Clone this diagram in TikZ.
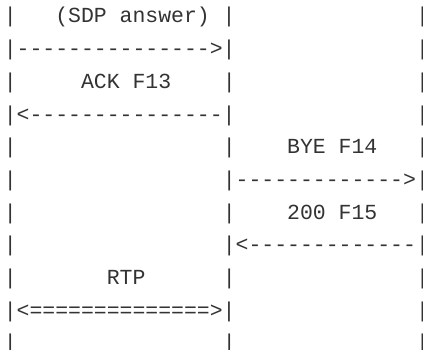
\documentclass[tikz,border=0pt]{standalone}
\usepackage{fontspec}
\setmonofont{Liberation Mono}
\definecolor{ink}{HTML}{333333}
\tikzset{row/.style={anchor=base west, inner sep=0pt, outer sep=0pt, text=ink, font=\ttfamily\fontsize{21.47bp}{32.7bp}\selectfont}}
\begin{document}
\begin{tikzpicture}[x=1bp,y=1bp]
\useasboundingbox[fill=white] (0,0) rectangle (423,350);
\node[row] (r0)  at (3.75,327.1) {|\ \ \ (SDP answer)\ |\ \ \ \ \ \ \ \ \ \ \ \ \ \ |};
\node[row] (r1)  at (3.75,294.4) {|-{}-{}-{}-{}-{}-{}-{}-{}-{}-{}-{}-{}-{}-{}->|\ \ \ \ \ \ \ \ \ \ \ \ \ \ |};
\node[row] (r2)  at (3.75,261.7) {|\ \ \ \ \ ACK F13\ \ \ \ |\ \ \ \ \ \ \ \ \ \ \ \ \ \ |};
\node[row] (r3)  at (3.75,229.0) {|<-{}-{}-{}-{}-{}-{}-{}-{}-{}-{}-{}-{}-{}-{}-|\ \ \ \ \ \ \ \ \ \ \ \ \ \ |};
\node[row] (r4)  at (3.75,196.3) {|\ \ \ \ \ \ \ \ \ \ \ \ \ \ \ \ |\ \ \ \ BYE F14\ \ \ |};
\node[row] (r5)  at (3.75,163.6) {|\ \ \ \ \ \ \ \ \ \ \ \ \ \ \ \ |-{}-{}-{}-{}-{}-{}-{}-{}-{}-{}-{}-{}->|};
\node[row] (r6)  at (3.75,130.9) {|\ \ \ \ \ \ \ \ \ \ \ \ \ \ \ \ |\ \ \ \ 200 F15\ \ \ |};
\node[row] (r7)  at (3.75,98.2)  {|\ \ \ \ \ \ \ \ \ \ \ \ \ \ \ \ |<-{}-{}-{}-{}-{}-{}-{}-{}-{}-{}-{}-{}-|};
\node[row] (r8)  at (3.75,65.5)  {|\ \ \ \ \ \ \ RTP\ \ \ \ \ \ |\ \ \ \ \ \ \ \ \ \ \ \ \ \ |};
\node[row] (r9)  at (3.75,32.8)  {|<==============>|\ \ \ \ \ \ \ \ \ \ \ \ \ \ |};
\node[row] (r10) at (3.75,0.1)   {|\ \ \ \ \ \ \ \ \ \ \ \ \ \ \ \ |\ \ \ \ \ \ \ \ \ \ \ \ \ \ |};
\end{tikzpicture}
\end{document}
